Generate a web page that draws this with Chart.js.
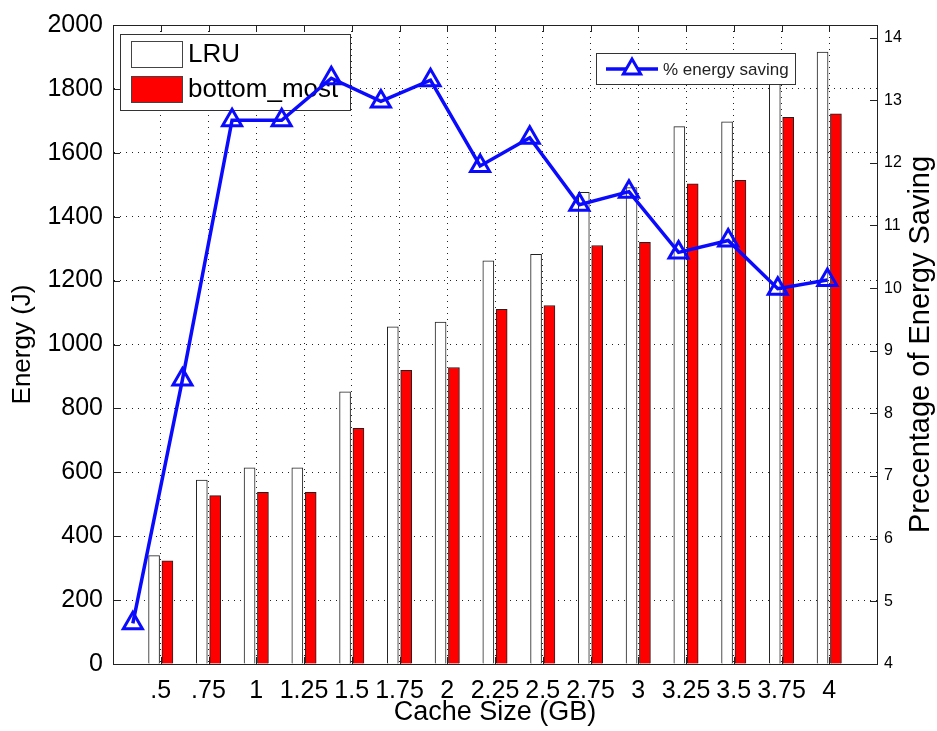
<!DOCTYPE html>
<html>
<head>
<meta charset="utf-8">
<script src="https://cdn.jsdelivr.net/npm/chart.js@4.4.1/dist/chart.umd.min.js"></script>
<style>
  html, body { margin: 0; padding: 0; background: #fff; }
  #wrap { width: 937px; height: 731px; }
</style>
</head>
<body>
<div id="wrap"><canvas id="chart" width="937" height="731"></canvas></div>
<script>
// data
const cacheSizes = ['.5', '.75', '1', '1.25', '1.5', '1.75', '2', '2.25', '2.5', '2.75', '3', '3.25', '3.5', '3.75', '4'];
const lruEnergy = [339, 576, 614, 614, 852, 1055, 1070, 1262, 1282, 1476, 1491, 1682, 1697, 1860, 1915];
const bottomMostEnergy = [323, 527, 537, 537, 738, 919, 928, 1110, 1122, 1310, 1320, 1503, 1514, 1711, 1722];
const energySaving = [4.65, 8.54, 12.68, 12.68, 13.35, 12.98, 13.32, 11.95, 12.40, 11.33, 11.54, 10.57, 10.76, 9.99, 10.13];

const FONT = "'Liberation Sans', Arial, Helvetica, sans-serif";
const BLUE = '#0a0aff';
const BAR_SHIFT = 0.14; // half a bar slot, in x units

// matlab puts the bars at 1..15 on a [0,16] axis
const xLabels = ['', ...cacheSizes, ''];
const atSlot = (arr) => arr.map((v, i) => ({ x: i + 1, y: v }));

const drawTriangle = (ctx, x, y, r) => {
  ctx.beginPath();
  ctx.moveTo(x, y - r);
  ctx.lineTo(x + r * Math.sin(Math.PI * 2 / 3), y + r / 2);
  ctx.lineTo(x - r * Math.sin(Math.PI * 2 / 3), y + r / 2);
  ctx.closePath();
};

const legendBoxes = {
  id: 'legendBoxes',
  // drawn over the bars but under the line, like the original
  beforeDatasetDraw(chart, args) {
    if (args.meta.type !== 'line') return;
    const ctx = chart.ctx;
    const a = chart.chartArea;
    const ds = chart.data.datasets;
    ctx.save();

    let x = a.left + 7, y = a.top + 9;
    ctx.fillStyle = '#fff';
    ctx.fillRect(x, y, 230, 76);
    ctx.strokeStyle = '#333';
    ctx.lineWidth = 1;
    ctx.strokeRect(x + 0.5, y + 0.5, 230, 76);

    ctx.font = '26px ' + FONT;
    ctx.textBaseline = 'middle';
    ctx.textAlign = 'left';
    [ds[0], ds[1]].forEach((d, i) => {
      const sy = y + 7 + i * 35;
      ctx.fillStyle = d.backgroundColor;
      ctx.fillRect(x + 11, sy, 51, 26);
      ctx.strokeStyle = '#444';
      ctx.strokeRect(x + 11.5, sy + 0.5, 51, 26);
      ctx.fillStyle = '#000';
      ctx.fillText(d.label, x + 68, sy + 14);
    });

    x = a.right - 281; y = a.top + 28;
    ctx.fillStyle = '#fff';
    ctx.fillRect(x, y, 199, 31);
    ctx.strokeStyle = '#333';
    ctx.strokeRect(x + 0.5, y + 0.5, 199, 31);
    const ly = y + 16;
    ctx.strokeStyle = BLUE;
    ctx.lineWidth = 3.5;
    ctx.beginPath();
    ctx.moveTo(x + 10, ly);
    ctx.lineTo(x + 62, ly);
    ctx.stroke();
    ctx.lineWidth = 3;
    ctx.fillStyle = '#fff';
    drawTriangle(ctx, x + 36, ly, 10);
    ctx.fill();
    ctx.stroke();
    ctx.fillStyle = '#222';
    ctx.font = '17px ' + FONT;
    ctx.fillText(ds[2].label, x + 67, ly + 1);
    ctx.restore();
  }
};

// matlab style frame, inward tick marks and the right axis title (reads bottom to top)
const axesFrame = {
  id: 'axesFrame',
  afterDraw(chart) {
    const ctx = chart.ctx;
    const a = chart.chartArea;
    const s = chart.scales;
    ctx.save();
    ctx.strokeStyle = '#222';
    ctx.lineWidth = 1;
    ctx.strokeRect(a.left + 0.5, a.top + 0.5, a.right - a.left, a.bottom - a.top);
    ctx.beginPath();
    s.y.ticks.forEach(t => {
      const py = Math.round(s.y.getPixelForValue(t.value)) + 0.5;
      ctx.moveTo(a.left, py); ctx.lineTo(a.left + 7, py);
    });
    s.yPct.ticks.forEach(t => {
      const py = Math.round(s.yPct.getPixelForValue(t.value)) + 0.5;
      ctx.moveTo(a.right, py); ctx.lineTo(a.right - 7, py);
    });
    cacheSizes.forEach((c, i) => {
      const px = Math.round(s.x.getPixelForValue(i + 1)) + 0.5;
      ctx.moveTo(px, a.bottom); ctx.lineTo(px, a.bottom - 7);
      ctx.moveTo(px, a.top); ctx.lineTo(px, a.top + 7);
    });
    ctx.stroke();

    ctx.translate(chart.width - 16, (a.top + a.bottom) / 2);
    ctx.rotate(-Math.PI / 2);
    ctx.fillStyle = '#000';
    ctx.font = '29px ' + FONT;
    ctx.textAlign = 'center';
    ctx.textBaseline = 'middle';
    ctx.fillText('Precentage of Energy Saving', 0, 0);
    ctx.restore();
  }
};

const dotted = { display: true, dash: [1, 5], color: '#222', width: 1 };
const plain = (v) => String(v);
const hiddenX = (min, max) => ({ type: 'linear', display: false, offset: false, grid: { offset: false }, min, max });

new Chart(document.getElementById('chart'), {
  type: 'bar',
  data: {
    datasets: [
      {
        type: 'bar',
        label: 'LRU',
        data: atSlot(lruEnergy),
        backgroundColor: '#ffffff',
        borderColor: '#222',
        borderWidth: 1,
        barThickness: 11,
        grouped: false,
        xAxisID: 'xW',
        yAxisID: 'y',
        order: 2,
      },
      {
        type: 'bar',
        label: 'bottom_most',
        data: atSlot(bottomMostEnergy),
        backgroundColor: '#ff0000',
        borderColor: '#222',
        borderWidth: 1,
        barThickness: 11,
        grouped: false,
        xAxisID: 'xR',
        yAxisID: 'y',
        order: 1,
      },
      {
        type: 'line',
        label: '% energy saving',
        data: energySaving.map((v, i) => ({ x: i, y: v })),
        borderColor: BLUE,
        borderWidth: 3.5,
        pointStyle: 'triangle',
        pointRadius: 11,
        pointBorderWidth: 3,
        pointBorderColor: BLUE,
        pointBackgroundColor: 'rgba(255,255,255,0)',
        tension: 0,
        xAxisID: 'xLine',
        yAxisID: 'yPct',
        order: 0,
      },
    ],
  },
  options: {
    responsive: false,
    animation: false,
    layout: { padding: { top: 21, right: 0, bottom: 0, left: 0 } },
    plugins: {
      legend: { display: false },
      tooltip: { enabled: false },
    },
    scales: {
      x: {
        type: 'linear',
        position: 'bottom',
        offset: false,
        min: 0,
        max: xLabels.length - 1,
        grid: { display: true, offset: false, drawTicks: false, color: '#222', lineWidth: 1 },
        border: dotted,
        ticks: {
          stepSize: 1,
          autoSkip: false,
          maxRotation: 0,
          minRotation: 0,
          padding: 12,
          color: '#000',
          font: { family: FONT, size: 25 },
          callback: (v) => xLabels[v],
        },
        title: {
          display: true,
          text: 'Cache Size (GB)',
          color: '#000',
          font: { family: FONT, size: 27 },
          padding: { top: 0, bottom: 2 },
        },
        afterFit: (scale) => { scale.height = 67; },
      },
      xW: hiddenX(BAR_SHIFT, xLabels.length - 1 + BAR_SHIFT),
      xR: hiddenX(-BAR_SHIFT, xLabels.length - 1 - BAR_SHIFT),
      xLine: hiddenX(-0.4, 15.0),
      y: {
        position: 'left',
        min: 0,
        max: 2000,
        ticks: {
          stepSize: 200,
          padding: 10,
          color: '#000',
          font: { family: FONT, size: 25 },
          callback: plain,
        },
        grid: { display: true, drawTicks: false, color: '#222', lineWidth: 1 },
        border: dotted,
        title: {
          display: true,
          text: 'Energy (J)',
          color: '#000',
          font: { family: FONT, size: 26 },
          padding: { top: 7, bottom: 0 },
        },
        afterFit: (scale) => { scale.width = 113; },
      },
      yPct: {
        position: 'right',
        min: 4,
        max: 14.2,
        ticks: {
          stepSize: 1,
          includeBounds: false,
          padding: 7,
          color: '#000',
          font: { family: FONT, size: 16 },
          callback: plain,
        },
        grid: { display: false, drawTicks: false },
        border: { display: false },
        afterFit: (scale) => { scale.width = 60; },
      },
    },
  },
  plugins: [legendBoxes, axesFrame],
});
</script>
</body>
</html>
